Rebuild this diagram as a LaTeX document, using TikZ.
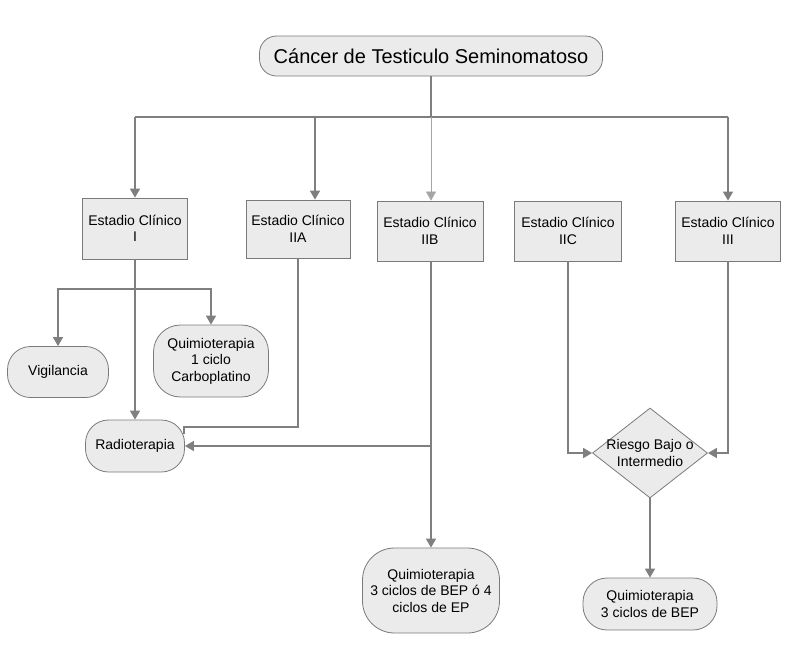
\documentclass[tikz,border=0pt]{standalone}
\usepackage{fontspec}
\setmainfont{Liberation Sans}
\usetikzlibrary{arrows.meta,shapes.geometric}
\definecolor{boxfill}{HTML}{EBEBEB}
\definecolor{edgegray}{HTML}{7A7A7A}
\definecolor{linegray}{HTML}{7F7F7F}
\tikzset{
  base/.style={draw=edgegray, fill=boxfill, line width=0.8pt, inner sep=0pt, align=center,
    font=\fontsize{14}{16.5}\selectfont},
  stagebox/.style={base, rectangle, minimum width=105pt, minimum height=60pt},
  roundbox/.style={base, rectangle, rounded corners=#1},
  conn/.style={draw=linegray, line width=1.6pt, -{Triangle[length=9pt,width=10pt]}},
  plainconn/.style={draw=linegray, line width=1.6pt},
}
\begin{document}
\begin{tikzpicture}[x=1pt,y=-1pt]
\useasboundingbox (0,0) rectangle (792,654);
% nodes
\node[roundbox=17pt, minimum width=343pt, minimum height=40pt, font=\fontsize{20}{23}\selectfont] (top) at (431,56) {Cáncer de Testiculo Seminomatoso};
\node[stagebox, minimum width=105pt, minimum height=61pt] (s1) at (135,228.5) {Estadio Clínico\\I};
\node[stagebox, minimum width=104pt, minimum height=58pt] (s2a) at (298,229) {Estadio Clínico\\IIA};
\node[stagebox, minimum width=106pt] (s2b) at (430,231) {Estadio Clínico\\IIB};
\node[stagebox, minimum width=107pt] (s2c) at (568,231) {Estadio Clínico\\IIC};
\node[stagebox] (s3) at (728,231) {Estadio Clínico\\III};
\node[roundbox=23pt, minimum width=101pt, minimum height=51pt] (vig) at (58,372) {Vigilancia};
\node[roundbox=27pt, minimum width=115pt, minimum height=72pt] (q1) at (211,361) {Quimioterapia\\1 ciclo\\Carboplatino};
\node[roundbox=23pt, minimum width=99pt, minimum height=52pt] (rad) at (135,446) {Radioterapia};
\node[roundbox=32pt, minimum width=137pt, minimum height=85pt] (qep) at (431,590.5) {Quimioterapia\\3 ciclos de BEP ó 4\\ciclos de EP};
\node[base, diamond, minimum width=115pt, minimum height=90pt] (dia) at (650,453) {};
\node[inner sep=0pt, align=center, font=\fontsize{14}{16.5}\selectfont] (diat) at (dia.center) {Riesgo Bajo o\\Intermedio};
\node[roundbox=24pt, minimum width=134pt, minimum height=52pt] (qbep) at (650,604) {Quimioterapia\\3 ciclos de BEP};
% junctions
\coordinate (j) at (431,117);
\coordinate (jl) at (135,117);
\coordinate (jr) at (728,117);
\coordinate (j2a) at (315,117);
\coordinate (b1) at (135,289);
\coordinate (ra) at (184,427);
\coordinate (rae) at (184,434);
\coordinate (jb) at (431,446);
% connectors
\draw[plainconn] (top.south) -- (j);
\draw[plainconn] (jl) -- (jr);
\draw[conn] (jl) -- (s1.north);
\draw[conn] (j2a) -- (j2a |- s2a.north);
\draw[conn, line width=0.5pt, draw=linegray!70] (j) -- (j |- s2b.north);
\draw[conn] (jr) -- (s3.north);
\draw[conn] (s1.south) -- (rad.north);
\draw[conn] (b1) -| (vig.north);
\draw[conn] (b1) -| (q1.north);
\draw[plainconn] (s2a.south) |- (ra) -- (rae);
\draw[conn] (j |- s2b.south) -- (qep.north);
\draw[conn] (jb) -- (rad.east);
\draw[conn] (s2c.south) |- (dia.west);
\draw[conn] (s3.south) |- (dia.east);
\draw[conn] (dia.south) -- (qbep.north);
\end{tikzpicture}
\end{document}
